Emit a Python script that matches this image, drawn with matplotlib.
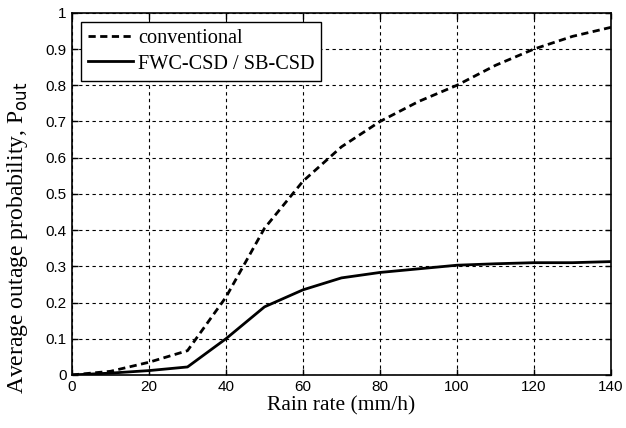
import matplotlib
matplotlib.use('Agg')
import matplotlib.pyplot as plt

rain = [0, 10, 20, 30, 40, 50, 60, 70, 80, 90, 100, 110, 120, 130, 140]
conventional = [0, 0.01, 0.035, 0.067, 0.215, 0.405, 0.535, 0.63, 0.70, 0.755,
                0.80, 0.855, 0.90, 0.935, 0.96]
fwc_csd = [0, 0.005, 0.012, 0.022, 0.10, 0.188, 0.235, 0.268, 0.283, 0.293,
           0.303, 0.307, 0.31, 0.31, 0.313]

xticks = [0, 20, 40, 60, 80, 100, 120, 140]
yticks = [0, 0.1, 0.2, 0.3, 0.4, 0.5, 0.6, 0.7, 0.8, 0.9, 1]
ytick_labels = ['0', '0.1', '0.2', '0.3', '0.4', '0.5', '0.6', '0.7', '0.8', '0.9', '1']

fig = plt.figure(figsize=(6.26, 4.28), dpi=100)
ax = fig.add_axes([0.115, 0.124, 0.861, 0.846])

ax.plot(rain, conventional, 'k--', lw=2, dashes=(2.6, 1.6), label='conventional')
ax.plot(rain, fwc_csd, 'k-', lw=2, label='FWC-CSD / SB-CSD')

ax.set_xlim(0, 140)
ax.set_ylim(0, 1)
ax.set_xticks(xticks)
ax.set_xticklabels([str(t) for t in xticks], family='Liberation Sans', fontsize=11)
ax.set_yticks(yticks)
ax.set_yticklabels(ytick_labels, family='Liberation Sans', fontsize=11)
ax.tick_params(direction='in', length=4, width=1, top=True, right=True, pad=4)
ax.grid(True, color='black', ls=(0, (3, 3)), lw=0.8)
for s in ax.spines.values():
    s.set_linewidth(1.2)

ax.set_xlabel('Rain rate (mm/h)', family='Liberation Serif', fontsize=15.5, labelpad=1)
ax.set_ylabel(r'Average outage probability, P$_{\mathrm{out}}$',
              family='Liberation Serif', fontsize=17)
ax.yaxis.set_label_coords(-0.078, 0.38)

leg = ax.legend(loc='upper left', prop={'family': 'Liberation Serif', 'size': 14.6},
                fancybox=False, framealpha=1, edgecolor='black', handlelength=2.2,
                handletextpad=0.25, borderaxespad=0.45, labelspacing=0.3,
                borderpad=0.35)
leg.get_frame().set_linewidth(1)

fig.savefig('out.png', dpi=100)
